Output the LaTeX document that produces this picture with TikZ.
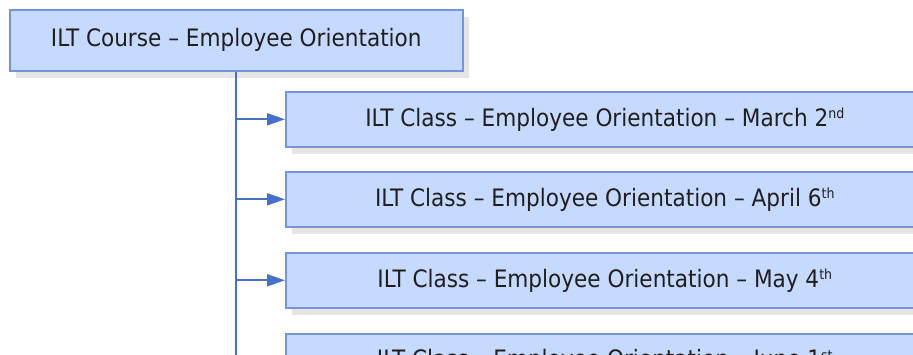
\documentclass[tikz,border=0pt]{standalone}
\usepackage{fontspec}
\setmainfont{DejaVu Sans Condensed}
\usetikzlibrary{arrows.meta,shadows}
\definecolor{boxfill}{RGB}{198,217,254}
\definecolor{boxdraw}{RGB}{118,148,220}
\definecolor{linkc}{RGB}{72,112,200}
\definecolor{shadowc}{RGB}{229,229,229}
\newcommand{\sups}[1]{\raisebox{0.6ex}{\fontsize{14}{15}\selectfont #1}}
\tikzset{
  box/.style={draw=boxdraw, line width=1.6pt, fill=boxfill, inner sep=0pt,
    font=\fontsize{24}{28}\selectfont, text=black!88,
    drop shadow={shadow xshift=6pt, shadow yshift=-7pt, fill=shadowc, opacity=1}},
  coursebox/.style={box, minimum width=453pt, minimum height=61pt, anchor=north west},
  classbox/.style={box, minimum width=638pt, minimum height=55pt, anchor=north west},
  link/.style={draw=linkc, line width=2pt},
  arr/.style={link, -{Triangle[length=18pt,width=12pt]}}
}
\begin{document}
\begin{tikzpicture}[x=1pt,y=-1pt]
\useasboundingbox (0,0) rectangle (913,354);
\clip (0,0) rectangle (913,354);
\node[coursebox] (course) at (9,9) {ILT Course -- Employee Orientation};
\coordinate (vend) at (236,360);
\draw[link] (course.south -| vend) -- (vend);
\node[classbox] (c1) at (285,91) {ILT Class -- Employee Orientation -- March 2\sups{nd}};
\node[classbox] (c2) at (285,171) {ILT Class -- Employee Orientation -- April 6\sups{th}};
\node[classbox] (c3) at (285,252) {ILT Class -- Employee Orientation -- May 4\sups{th}};
\node[classbox] (c4) at (285,333) {ILT Class -- Employee Orientation -- June 1\sups{st}};
\draw[arr] (c1.west -| vend) -- (c1.west);
\draw[arr] (c2.west -| vend) -- (c2.west);
\draw[arr] (c3.west -| vend) -- (c3.west);
\end{tikzpicture}
\end{document}
